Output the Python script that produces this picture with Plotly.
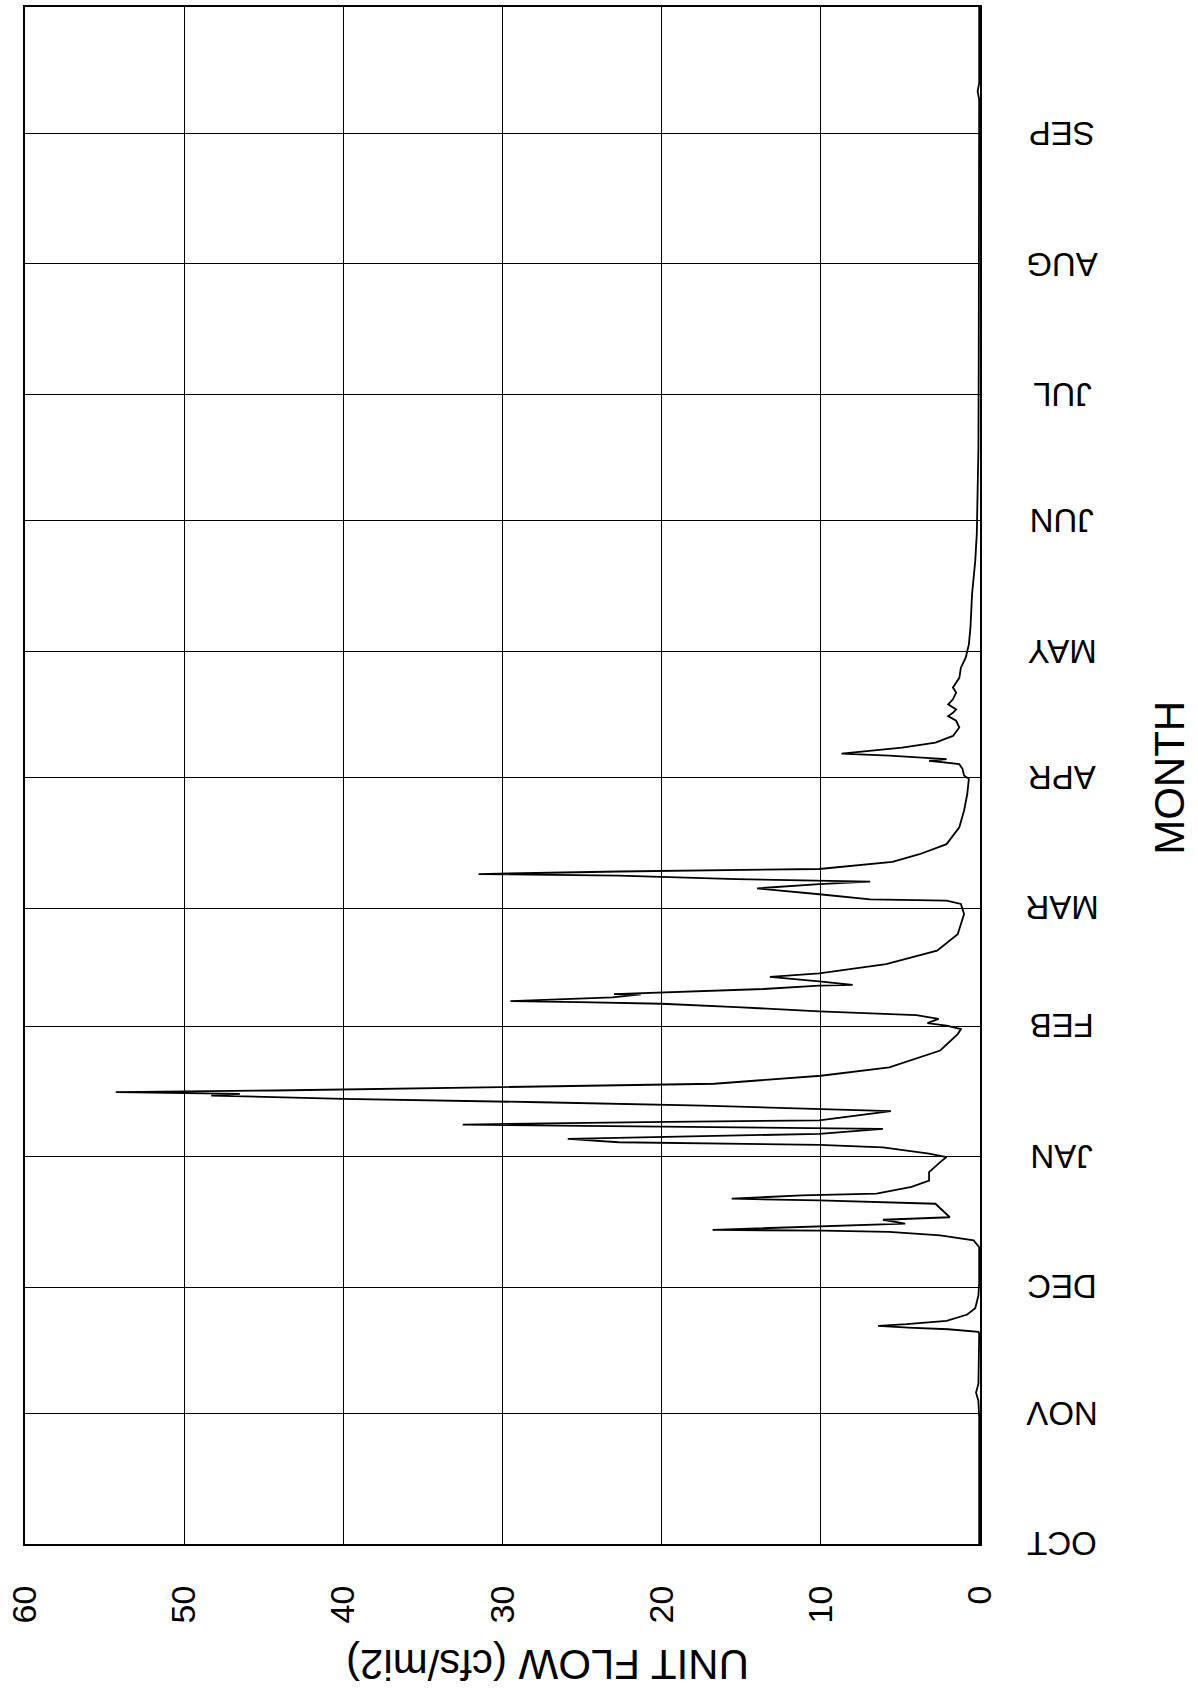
import plotly.graph_objects as go

# ---- data ----
# day of water year (0 = Oct 1) and unit flow (cfs/mi2)
day = [0, 10, 20, 30, 34, 36, 38, 45, 50, 50.4, 51.0, 51.4, 51.8, 52.2, 53.0, 54.5, 56, 59, 62, 66,
       70.5, 72.1, 73.3, 74.1, 74.4, 74.6, 75.4, 76.1, 77.0, 77.6, 80.8, 81.6, 82.0, 82.8, 83.2,
       84.8, 86.3, 88.3, 90.7, 91.9, 92.7, 94.2, 94.8, 95.4, 96.2, 96.6, 97.4, 98.6, 99.1, 99.6,
       100.2, 100.6, 102.8, 103.3, 104.1, 104.9, 105.7, 106.5, 106.9, 107.3, 107.7, 108.5, 109.3,
       111.2, 113.2, 117.2, 121.1, 122.3, 123.1, 123.7, 124.7, 125.6, 126.0, 126.5, 127.5, 128.3,
       128.7, 128.9, 129.8, 130.5, 130.6, 131.0, 131.8, 132.6, 132.8, 133.6, 134.7, 135.5, 137.7,
       140.9, 144.8, 149.6, 152.0, 152.8, 153.1, 154.3, 155.7, 156.7, 157.3, 157.9, 158.7, 159.1,
       159.7, 160.3, 162.0, 163.8, 166.2, 170.2, 174.2, 178.1, 181.7, 182.5, 184.1, 185.2, 186.0,
       186.4, 186.8, 187.2, 187.7, 188.3, 189.1, 190.3, 191.9, 193.9, 195.5, 196.6, 197.4, 198.2,
       199.4, 200.6, 202.2, 203.4, 204.6, 205.7, 208.1, 210.5, 213.6, 217.6, 225.5, 233.4, 240,
       250, 260, 280, 300, 330, 343, 345, 347, 365]
flow = [0.05, 0.05, 0.05, 0.05, 0.1, 0.25, 0.1, 0.05, 0.05, 0.1, 2.0, 4.5, 6.4, 4.6, 2.1, 0.8, 0.3, 0.1, 0.05, 0.05,
        0.05, 0.4, 2.5, 5.7, 9.9, 16.8, 10.8, 4.7, 6.1, 1.9, 2.8, 10.1, 15.6, 11.2, 6.5,
        4.3, 3.2, 3.2, 2.5, 2.1, 3.2, 6.1, 10.1, 22.7, 25.9, 19.9, 10.1, 6.1, 19.6, 32.5,
        21.0, 10.1, 5.6, 10.0, 17.4, 27.6, 40.0, 48.3, 46.5, 54.3, 44.3, 30.1, 16.7,
        10.0, 5.7, 2.5, 1.4, 1.2, 2.1, 3.3, 2.6, 4.0, 6.9, 10.1, 15.3, 20.0,
        25.2, 29.5, 23.1, 21.3, 23.0, 20.0, 13.6, 10.1, 8.0, 10.1, 13.2, 10.1, 5.9,
        2.7, 1.4, 1.0, 1.2, 2.1, 6.9, 10.1, 14.0, 10.1, 6.9, 15.3, 22.7, 31.5,
        22.7, 10.1, 5.5, 3.8, 2.1, 1.3, 1.0, 0.8, 0.7, 1.0, 1.1, 1.3, 3.2,
        2.1, 3.6, 5.7, 8.7, 7.0, 4.9, 2.8, 1.7, 1.3, 1.5, 2.0, 1.7, 1.5,
        2.0, 1.7, 1.5, 1.7, 1.5, 1.3, 1.2, 0.9, 0.7, 0.6, 0.5, 0.3, 0.2,
        0.15, 0.1, 0.08, 0.06, 0.05, 0.05, 0.15, 0.05, 0.05]

month_start_day = [0, 31, 61, 92, 123, 151, 182, 212, 243, 273, 304, 335]
month_labels = ["OCT", "NOV", "DEC", "JAN", "FEB", "MAR", "APR", "MAY", "JUN", "JUL", "AUG", "SEP"]
flow_ticks = [0, 10, 20, 30, 40, 50, 60]
flow_tick_text = ["0", "10", "20", "30", "40", "50", "60"]

FONT = "Liberation Sans, Arial, sans-serif"

fig = go.Figure()
fig.add_trace(go.Scatter(x=flow, y=day, mode="lines",
                         line=dict(color="black", width=1.8), showlegend=False,
                         hoverinfo="skip"))

fig.update_layout(
    width=1198, height=1698,
    margin=dict(l=24, r=218, t=5, b=154),
    paper_bgcolor="white", plot_bgcolor="white",
    font=dict(family=FONT, color="black"),
    xaxis=dict(range=[60, 0], tickmode="array", tickvals=flow_ticks, ticktext=flow_tick_text,
               tickangle=-90, tickfont=dict(size=34, family=FONT, color="black"),
               ticks="", ticklabelstandoff=26,
               showgrid=True, gridcolor="black", gridwidth=1.3,
               showline=True, linecolor="black", linewidth=2, mirror=True,
               zeroline=False, fixedrange=True),
    yaxis=dict(range=[0, 365], tickmode="array", tickvals=month_start_day,
               showticklabels=False, ticks="",
               showgrid=True, gridcolor="black", gridwidth=1.3,
               showline=True, linecolor="black", linewidth=2, mirror=True,
               zeroline=False, fixedrange=True),
)

# month labels, upside down, centred on each month-start grid line
for d, lab in zip(month_start_day, month_labels):
    fig.add_annotation(text=lab, xref="paper", yref="y",
                       x=(1062 - 24) / 956, y=d,
                       xanchor="center", yanchor="middle", showarrow=False, textangle=180,
                       font=dict(size=33, family=FONT, color="black"))

fig.add_annotation(text="UNIT FLOW (cfs/mi2)", xref="paper", yref="paper",
                   x=(547 - 24) / 956, y=-(1664 - 1544) / 1539,
                   xanchor="center", yanchor="middle", showarrow=False, textangle=180,
                   font=dict(size=42, family=FONT, color="black"))
fig.add_annotation(text="MONTH", xref="paper", yref="paper",
                   x=(1170 - 24) / 956, y=(1544 - 777) / 1539,
                   xanchor="center", yanchor="middle", showarrow=False, textangle=-90,
                   font=dict(size=42, family=FONT, color="black"))

fig.write_html("out.html")
